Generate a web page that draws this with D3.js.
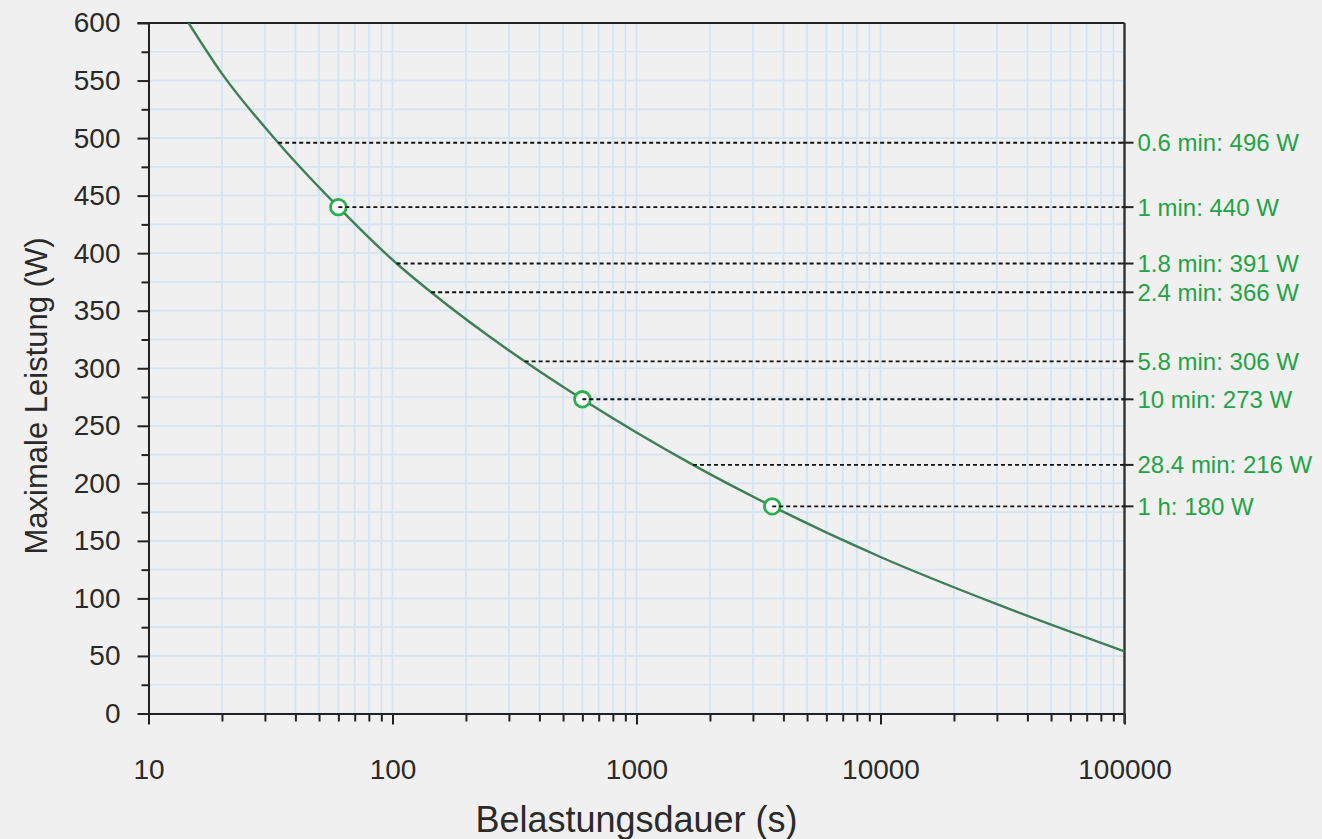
<!DOCTYPE html>
<html>
<head>
<meta charset="utf-8">
<script src="https://cdn.jsdelivr.net/npm/d3@7"></script>
<style>
  body { margin: 0; background: #f0f0f0; }
  text { font-family: "Liberation Sans", Arial, sans-serif; }
</style>
</head>
<body>
<svg width="1322" height="839"></svg>
<script>
// Kurve: Belastungsdauer (s) und maximale Leistung (W)
const curveSeconds = [14.6, 20, 34, 60, 104, 144, 348, 600, 1704, 3600, 10000, 30000, 100000];
const curveWatts   = [600, 556, 496, 440, 391, 366, 306, 273, 216, 180, 136, 95, 54];

// markierte Werte (rechte Achse)
const markSeconds = [34, 60, 104, 144, 348, 600, 1704, 3600];
const markWatts   = [496, 440, 391, 366, 306, 273, 216, 180];
const markDurText = ["0.6 min", "1 min", "1.8 min", "2.4 min", "5.8 min", "10 min", "28.4 min", "1 h"];
const circleSeconds = [60, 600, 3600];
const circleWatts   = [440, 273, 180];

const xMajor = [10, 100, 1000, 10000, 100000];
const yMajor = [0, 50, 100, 150, 200, 250, 300, 350, 400, 450, 500, 550, 600];

const svg = d3.select("svg"),
	pLeft = 148.5, pRight = 1124.5, pTop = 23, pBottom = 713.5;

const x = d3.scaleLog().domain([10, 100000]).range([pLeft, pRight]);
const y = d3.scaleLinear().domain([0, 600]).range([pBottom, pTop]);

// Nebenteilungen der log-Achse: 2..9 je Dekade
const xMinor = [];
[10, 100, 1000, 10000].forEach(function(d) {
	for (let k = 2; k <= 9; k++) xMinor.push(d * k);
});
const yMinor = d3.range(25, 600, 50);

svg.append("rect").attr("width", 1322).attr("height", 839).attr("fill", "#f0f0f0");

// Gitter
const grid = svg.append("g").attr("stroke", "#d2e4f6").attr("stroke-width", 1.7);
grid.selectAll("line.v")
	.data(xMinor.concat(xMajor))
	.enter().append("line")
	.attr("x1", d => x(d)).attr("x2", d => x(d))
	.attr("y1", pTop).attr("y2", pBottom);
grid.selectAll("line.h")
	.data(yMinor.concat(yMajor))
	.enter().append("line")
	.attr("x1", pLeft).attr("x2", pRight)
	.attr("y1", d => y(d)).attr("y2", d => y(d));

// Achsen
const axisColor = "#222";
const xAxis = svg.append("g")
	.attr("transform", "translate(0," + pBottom + ")")
	.call(d3.axisBottom(x).tickValues(xMajor).tickSize(11).tickSizeOuter(0).tickFormat(d3.format("d")));
svg.append("g")
	.attr("transform", "translate(0," + pBottom + ")")
	.call(d3.axisBottom(x).tickValues(xMinor).tickSize(8).tickSizeOuter(0).tickFormat(""));
const yAxis = svg.append("g")
	.attr("transform", "translate(" + pLeft + ",0)")
	.call(d3.axisLeft(y).tickValues(yMajor).tickSize(11).tickSizeOuter(0));
svg.append("g")
	.attr("transform", "translate(" + pLeft + ",0)")
	.call(d3.axisLeft(y).tickValues(yMinor).tickSize(7).tickSizeOuter(0).tickFormat(""));

svg.selectAll(".domain, .tick line").attr("stroke", axisColor).attr("stroke-width", 2);
xAxis.selectAll("text").attr("y", 65).attr("dy", 0)
	.style("font-size", "28px").attr("fill", "#2a2a2a");
yAxis.selectAll("text").attr("x", -28)
	.style("font-size", "28px").attr("fill", "#2a2a2a");

// Rahmen oben und rechts
svg.append("line").attr("x1", pLeft - 11).attr("x2", pRight).attr("y1", pTop).attr("y2", pTop)
	.attr("stroke", axisColor).attr("stroke-width", 2);
svg.append("line").attr("x1", pRight).attr("x2", pRight).attr("y1", pTop).attr("y2", pBottom + 10)
	.attr("stroke", "#333").attr("stroke-width", 2.4);

// Kurve
svg.append("clipPath").attr("id", "clip")
	.append("rect").attr("x", pLeft).attr("y", pTop).attr("width", pRight - pLeft).attr("height", pBottom - pTop);

const curve = curveSeconds.map((s, i) => [s, curveWatts[i]]);
svg.append("path")
	.datum(curve)
	.attr("clip-path", "url(#clip)")
	.attr("fill", "none")
	.attr("stroke", "#3e7f56")
	.attr("stroke-width", 2.4)
	.attr("d", d3.line().x(d => x(d[0])).y(d => y(d[1])).curve(d3.curveMonotoneX));

// Markierungen
svg.selectAll("circle.mark")
	.data(circleSeconds)
	.enter().append("circle")
	.attr("cx", d => x(d))
	.attr("cy", (d, i) => y(circleWatts[i]))
	.attr("r", 7.8)
	.attr("fill", "#ffffff")
	.attr("stroke", "#2aae4e")
	.attr("stroke-width", 2.8);

svg.selectAll("line.dash")
	.data(markSeconds)
	.enter().append("line")
	.attr("x1", d => x(d)).attr("x2", pRight)
	.attr("y1", (d, i) => y(markWatts[i])).attr("y2", (d, i) => y(markWatts[i]))
	.attr("stroke", "#111")
	.attr("stroke-width", 1.9)
	.attr("stroke-dasharray", "4,3");

svg.selectAll("line.rtick")
	.data(markWatts)
	.enter().append("line")
	.attr("x1", pRight - 3).attr("x2", pRight + 9)
	.attr("y1", d => y(d)).attr("y2", d => y(d))
	.attr("stroke", axisColor).attr("stroke-width", 2);

svg.selectAll("text.rlabel")
	.data(markWatts)
	.enter().append("text")
	.attr("x", pRight + 13)
	.attr("y", d => y(d))
	.attr("dy", "0.35em")
	.attr("fill", "#23a346")
	.style("font-size", "24px")
	.text((d, i) => markDurText[i] + ": " + d + " W");

// Achsentitel
svg.append("text")
	.attr("x", (pLeft + pRight) / 2)
	.attr("y", 832)
	.attr("text-anchor", "middle")
	.attr("fill", "#2a2a2a")
	.style("font-size", "36px")
	.text("Belastungsdauer (s)");

svg.append("text")
	.attr("transform", "translate(47,396) rotate(-90)")
	.attr("text-anchor", "middle")
	.attr("fill", "#2a2a2a")
	.style("font-size", "31px")
	.text("Maximale Leistung (W)");
</script>
</body>
</html>
